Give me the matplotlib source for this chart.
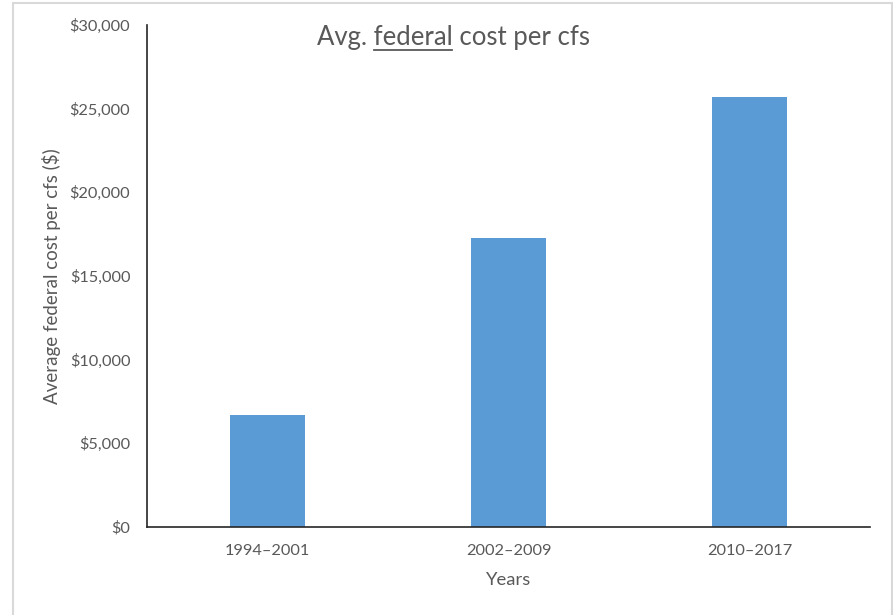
import matplotlib
matplotlib.use("Agg")
import matplotlib.pyplot as plt
from matplotlib.patches import Rectangle
from matplotlib.lines import Line2D

# data
periods = ["1994\u20132001", "2002\u20132009", "2010\u20132017"]
avg_cost = [6700, 17300, 25700]
y_ticks = [0, 5000, 10000, 15000, 20000, 25000, 30000]

W, H = 893, 615
txt = "#595959"
plt.rcParams['font.family'] = ['Lato', 'DejaVu Sans']

fig = plt.figure(figsize=(W / 100, H / 100), dpi=100)
# light grey frame round the chart area
fig.patches.append(Rectangle((13 / W, -0.05), (892 - 13) / W, (H - 3) / H + 0.05,
                             transform=fig.transFigure, fill=False,
                             edgecolor="#d9d9d9", linewidth=1.5))

ax = fig.add_axes([147 / W, 1 - 527 / H, (870 - 147) / W, (527 - 25) / H])
ax.bar(range(len(periods)), avg_cost, width=0.31, color="#5b9bd5")
ax.set_xlim(-0.5, 2.5)
ax.set_ylim(0, 30000)
ax.set_yticks(y_ticks)
ax.set_yticklabels(["${:,}".format(v) for v in y_ticks])
ax.set_xticks(range(len(periods)))
ax.set_xticklabels(periods)
ax.tick_params(length=0, labelsize=11.8, labelcolor=txt)
ax.tick_params(axis="y", pad=12)
ax.tick_params(axis="x", pad=12)
for s in ["top", "right"]:
    ax.spines[s].set_visible(False)
for s in ["left", "bottom"]:
    ax.spines[s].set_color("#262626")
    ax.spines[s].set_linewidth(1.2)

ax.set_xlabel("Years", fontsize=13.3, color=txt, labelpad=10)
ax.set_ylabel("Average federal cost per cfs ($)", fontsize=13.5, color=txt)
ax.yaxis.set_label_coords((61 - 147) / (870 - 147), 0.5)

# title with "federal" underlined
title = "Avg. federal cost per cfs"
tx, ty = 453 / W, 1 - 38 / H
t = fig.text(tx, ty, title, ha="center", va="center", fontsize=18.5, color=txt)
fig.canvas.draw()
r = fig.canvas.get_renderer()
full = t.get_window_extent(r)
pre = fig.text(0, 0, "Avg. ", fontsize=18.5)
mid = fig.text(0, 0, "Avg. federal", fontsize=18.5)
w_pre = pre.get_window_extent(r).width
w_mid = mid.get_window_extent(r).width
pre.remove()
mid.remove()
x0 = full.x0 + w_pre + 1
x1 = full.x0 + w_mid
yl = full.y0 + 1
fig.lines.append(Line2D([x0 / W, x1 / W], [yl / H, yl / H], transform=fig.transFigure,
                        color=txt, linewidth=1.3))

fig.savefig("out.png", dpi=100)
